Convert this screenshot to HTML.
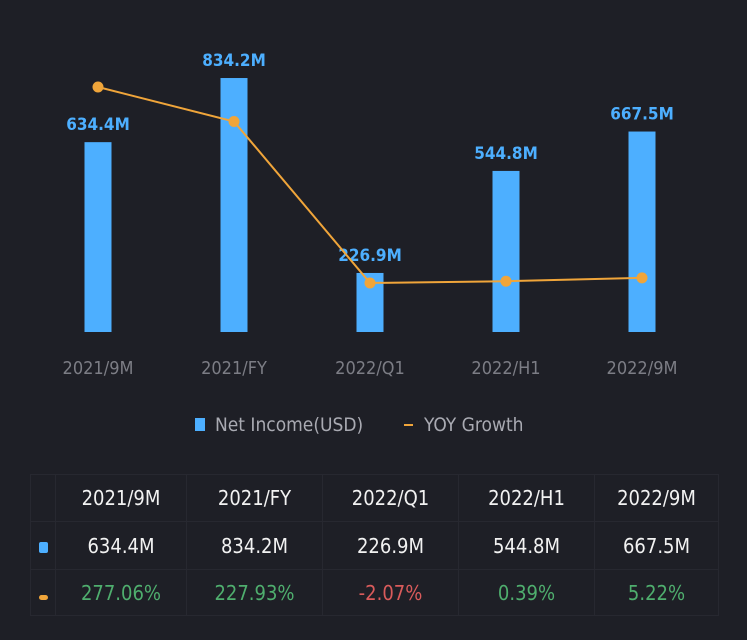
<!DOCTYPE html>
<html><head><meta charset="utf-8"><style>
body{margin:0;width:747px;height:640px;background:#1e1f26;overflow:hidden;font-family:"DejaVu Sans Condensed","Liberation Sans",sans-serif}
table{position:absolute;left:30px;top:474px;border-collapse:collapse;width:688px;table-layout:fixed}
td{border:1px solid #272830;text-align:center;font-size:20px;color:#f2f2f2;padding:0}
tr.h td{height:46px}tr.v td{height:47px}tr.g td{height:45px}
.pos{color:#4fae6e}.neg{color:#d95b5b}
</style></head><body>
<svg id="chart" width="747" height="460" style="position:absolute;left:0;top:0"></svg>
<table>
<colgroup><col style="width:25px"><col style="width:131px"><col style="width:136px"><col style="width:136px"><col style="width:136px"><col style="width:124px"></colgroup>
<tr class="h"><td></td><td>2021/9M</td><td>2021/FY</td><td>2022/Q1</td><td>2022/H1</td><td>2022/9M</td></tr>
<tr class="v"><td><span style="display:inline-block;width:9px;height:11px;background:#4dafff;border-radius:2px"></span></td><td>634.4M</td><td>834.2M</td><td>226.9M</td><td>544.8M</td><td>667.5M</td></tr>
<tr class="g"><td><span style="display:inline-block;width:9px;height:5px;background:#f0a53a;border-radius:3px"></span></td><td class="pos">277.06%</td><td class="pos">227.93%</td><td class="neg">-2.07%</td><td class="pos">0.39%</td><td class="pos">5.22%</td></tr>
</table>
<script>
const categories=["2021/9M","2021/FY","2022/Q1","2022/H1","2022/9M"];
const income=[634.4,834.2,226.9,544.8,667.5];
const incomeLabels=["634.4M","834.2M","226.9M","544.8M","667.5M"];
const growth=[277.06,227.93,-2.07,0.39,5.22];
const svg=document.getElementById('chart');
const NS="http://www.w3.org/2000/svg";
const x=i=>98+i*136;
const yBar=v=>345.8-0.321*v;
const yLine=v=>281.5-0.702*v;
const base=332;
function mk(t,a){const e=document.createElementNS(NS,t);for(const k in a)e.setAttribute(k,a[k]);svg.appendChild(e);return e;}
income.forEach((v,i)=>{
 const b=mk('rect',{x:x(i)-13.5,y:yBar(v),width:27,height:base-yBar(v),fill:'#4dafff'});
 
 
 const l=mk('text',{x:x(i),y:yBar(v)-12,'text-anchor':'middle',fill:'#4dafff','font-size':'17','font-weight':'bold'});
 l.textContent=incomeLabels[i];
 
 
 const c=mk('text',{x:x(i),y:374,'text-anchor':'middle',fill:'#7c7d85','font-size':'18'});
 c.textContent=categories[i];
 
 
});
const pl=mk('polyline',{points:growth.map((v,i)=>x(i)+','+yLine(v)).join(' '),fill:'none',stroke:'#f0a53a','stroke-width':'2'});


growth.forEach((v,i)=>{
 const p=mk('circle',{cx:x(i),cy:yLine(v),r:5.5,fill:'#f0a53a'});
 
 
});
const r=mk('rect',{x:195,y:418,width:10,height:13,fill:'#4dafff'});


const t1=mk('text',{x:215,y:431,fill:'#a9aab2','font-size':'19'});t1.textContent='Net Income(USD)';


const r2=mk('rect',{x:404,y:424,width:9,height:2,fill:'#f0a53a'});


const t2=mk('text',{x:424,y:431,fill:'#a9aab2','font-size':'19'});t2.textContent='YOY Growth';


</script>
</body></html>
